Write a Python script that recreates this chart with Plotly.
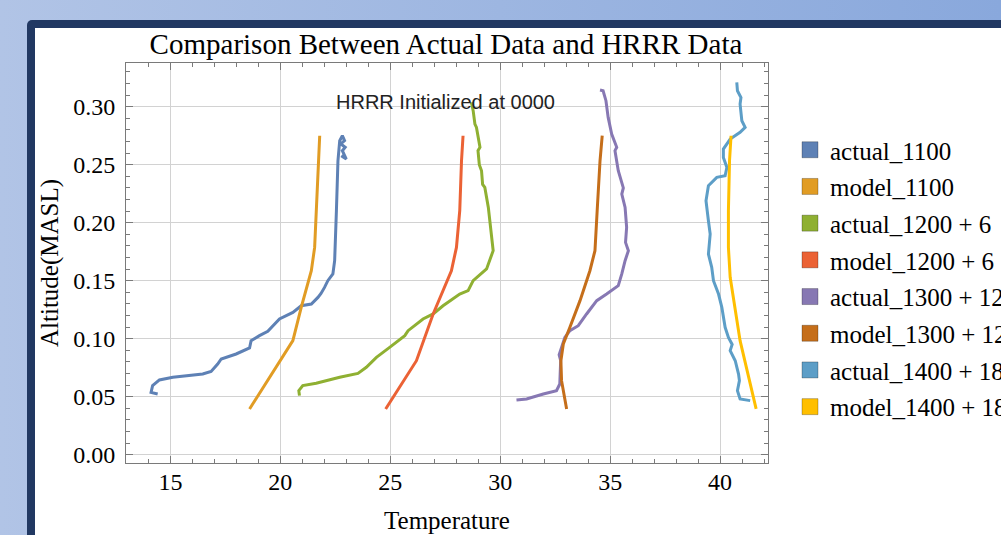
import base64
import plotly.graph_objects as go

# ---------------- data (temperature, altitude) ----------------
actual_1100_t = [14.42, 14.12, 14.19, 14.50, 15.11, 16.47, 16.85, 17.15, 17.31, 17.99, 18.60, 18.67,
                 19.05, 19.43, 19.96, 20.57, 20.95, 21.41, 21.71, 21.85, 22.01, 22.16, 22.39, 22.47, 22.55,
                 22.62, 22.70, 22.82, 22.92, 22.75, 22.95, 22.82, 23.00, 22.77]
actual_1100_z = [0.0523, 0.0537, 0.0595, 0.0644, 0.0667, 0.0695, 0.0718, 0.0781, 0.0825, 0.0868, 0.0920, 0.0983,
                 0.1026, 0.1063, 0.1170, 0.1227, 0.1284, 0.1299, 0.1356, 0.1390, 0.1442, 0.1500, 0.1558, 0.1672, 0.2103,
                 0.2534, 0.2707, 0.2750, 0.2707, 0.2680, 0.2650, 0.2621, 0.2549, 0.2578]

model_1100_t = [18.60, 19.96, 20.57, 20.95, 21.41, 21.56, 21.63, 21.71, 21.79]
model_1100_z = [0.0394, 0.0796, 0.0983, 0.1270, 0.1586, 0.1787, 0.2103, 0.2534, 0.2750]

actual_1200_t = [20.87, 20.84, 21.02, 21.63, 22.70, 23.53, 23.91, 24.37, 24.97, 25.66, 25.81, 26.49,
                 26.95, 27.40, 28.16, 28.54, 28.77, 29.38, 29.68, 29.60, 29.46, 29.30, 29.20, 29.15, 29.05,
                 28.99, 29.08, 28.92, 28.85, 28.77, 28.69]
actual_1200_z = [0.0509, 0.0552, 0.0595, 0.0615, 0.0667, 0.0701, 0.0753, 0.0839, 0.0925, 0.1026, 0.1069, 0.1170,
                 0.1213, 0.1284, 0.1385, 0.1414, 0.1500, 0.1601, 0.1759, 0.1902, 0.2132, 0.2304, 0.2330, 0.2448, 0.2500,
                 0.2621, 0.2650, 0.2822, 0.2850, 0.2966, 0.3037]

model_1200_t = [24.79, 26.19, 26.95, 27.78, 28.01, 28.16, 28.24, 28.31]
model_1200_z = [0.0394, 0.0810, 0.1213, 0.1586, 0.1787, 0.2103, 0.2534, 0.2750]

actual_1300_t = [30.74, 31.20, 31.96, 32.56, 32.71, 32.75, 32.68, 32.79, 32.94, 33.17, 33.55, 33.93, 34.39,
                 34.84, 35.37, 35.53, 35.68, 35.83, 35.70, 35.75, 35.68, 35.53, 35.60, 35.37, 35.22, 35.30,
                 35.07, 34.91, 34.81, 34.68, 34.54]
actual_1300_z = [0.0471, 0.0480, 0.0523, 0.0552, 0.0609, 0.0810, 0.0860, 0.0925, 0.1011, 0.1069, 0.1112, 0.1213, 0.1328,
                 0.1385, 0.1457, 0.1558, 0.1672, 0.1759, 0.1830, 0.1960, 0.2132, 0.2247, 0.2300, 0.2448, 0.2621, 0.2650,
                 0.2764, 0.2908, 0.3052, 0.3138, 0.3144]

model_1300_t = [33.02, 32.79, 32.76, 32.87, 33.17, 33.63, 34.08, 34.31, 34.41, 34.54, 34.64]
model_1300_z = [0.0394, 0.0638, 0.0810, 0.0954, 0.1098, 0.1328, 0.1586, 0.1759, 0.2103, 0.2534, 0.2750]

actual_1400_t = [41.37, 40.91, 40.79, 40.88, 40.84, 40.69, 40.46, 40.55, 40.38, 40.23, 40.08, 39.93, 39.70,
                 39.62, 39.47, 39.55, 39.47, 39.36, 39.47, 39.85, 40.23, 40.31, 40.15, 40.15, 40.46,
                 40.91, 41.14, 40.99, 40.91, 40.95, 40.79, 40.76]
actual_1400_z = [0.0466, 0.0480, 0.0552, 0.0638, 0.0695, 0.0810, 0.0897, 0.0950, 0.1011, 0.1098, 0.1270, 0.1385, 0.1500,
                 0.1615, 0.1730, 0.1902, 0.2017, 0.2190, 0.2319, 0.2391, 0.2405, 0.2477, 0.2563, 0.2635, 0.2721,
                 0.2779, 0.2822, 0.2879, 0.3023, 0.3080, 0.3138, 0.3209]

model_1400_t = [41.64, 40.91, 40.46, 40.38, 40.38, 40.43, 40.50]
model_1400_z = [0.0394, 0.0983, 0.1529, 0.1787, 0.2103, 0.2534, 0.2750]

series_names = ["actual_1100", "model_1100", "actual_1200 + 6", "model_1200 + 6",
                "actual_1300 + 12", "model_1300 + 12", "actual_1400 + 18", "model_1400 + 18"]
series_colors = ["#5E81B5", "#E19C24", "#8FB032", "#EB6235",
                 "#8778B3", "#C56E1A", "#5D9EC7", "#FFBF00"]
series_data = [(actual_1100_t, actual_1100_z), (model_1100_t, model_1100_z),
               (actual_1200_t, actual_1200_z), (model_1200_t, model_1200_z),
               (actual_1300_t, actual_1300_z), (model_1300_t, model_1300_z),
               (actual_1400_t, actual_1400_z), (model_1400_t, model_1400_z)]

title_text = "Comparison Between Actual Data and HRRR Data"
note_text = "HRRR Initialized at 0000"

# ---------------- layout geometry (page pixels) ----------------
W, H = 1001, 535
L, R, T, B = 126, 768, 63, 463
pw, ph = R - L, B - T


def px(xp):
    return (xp - L) / pw


def py(yp):
    return (B - yp) / ph


fig = go.Figure()
for (tx, zy), name, col in zip(series_data, series_names, series_colors):
    fig.add_trace(go.Scatter(x=tx, y=zy, mode="lines", name=name,
                             line=dict(color=col, width=3), showlegend=False))
# legend swatches (squares, Mathematica style)
for i, (name, col) in enumerate(zip(series_names, series_colors)):
    fig.add_trace(go.Scatter(x=[None], y=[None], mode="markers", name=name,
                             legendgroup=f"g{i}",
                             marker=dict(symbol="square", size=16, color=col,
                                         line=dict(width=1, color="rgba(0,0,0,0.25)"))))

svg = f"""<svg xmlns='http://www.w3.org/2000/svg' width='{W}' height='{H}' viewBox='0 0 {W} {H}'>
<defs><linearGradient id='g' x1='0' y1='0' x2='1' y2='0'>
<stop offset='0' stop-color='#b1c4e6'/><stop offset='1' stop-color='#89a8dc'/></linearGradient></defs>
<rect width='{W}' height='{H}' fill='url(#g)'/>
<rect x='27' y='20' width='1100' height='600' rx='5' fill='#213862'/>
<rect x='35' y='28' width='1100' height='600' fill='#ffffff'/>
</svg>"""
src = "data:image/svg+xml;base64," + base64.b64encode(svg.encode()).decode()

fig.add_layout_image(dict(source=src, xref="paper", yref="paper",
                          x=px(0), y=py(0), sizex=W / pw, sizey=H / ph,
                          xanchor="left", yanchor="top", sizing="stretch", layer="below"))

serif = "Liberation Serif"
axis_common = dict(showline=True, linecolor="#7a7a7a", linewidth=1, mirror="ticks",
                   ticks="inside", ticklen=7, tickcolor="#7a7a7a",
                   showgrid=True, gridcolor="#d2d2d2", gridwidth=1, zeroline=False,
                   tickfont=dict(family=serif, size=24, color="black"))

fig.update_xaxes(range=[12.98, 42.18], dtick=5, tick0=0, ticklabelstandoff=-3,
                 minor=dict(dtick=1, ticks="inside", ticklen=4, tickcolor="#7a7a7a", showgrid=False),
                 title=dict(text="Temperature", font=dict(family=serif, size=25, color="black"), standoff=17),
                 **axis_common)
fig.update_yaxes(range=[-0.0072, 0.3377], dtick=0.05, tick0=0, tickformat=".2f", ticklabelstandoff=5,
                 minor=dict(dtick=0.01, ticks="inside", ticklen=4, tickcolor="#7a7a7a", showgrid=False),
                 title=dict(text="Altitude(MASL)", font=dict(family=serif, size=25, color="black"), standoff=7),
                 **axis_common)

fig.add_annotation(x=px(445), y=py(101.7), xref="paper", yref="paper", text=note_text,
                   showarrow=False, font=dict(family="Liberation Sans", size=20, color="#222222"),
                   xanchor="center", yanchor="middle")

fig.update_layout(
    width=W, height=H,
    margin=dict(l=L, r=W - R, t=T, b=H - B, autoexpand=False),
    paper_bgcolor="#ffffff", plot_bgcolor="#ffffff",
    title=dict(text=title_text, x=px(446), xref="paper", xanchor="center",
               y=1 - 44 / H, yanchor="middle",
               font=dict(family=serif, size=29, color="black")),
    legend=dict(x=px(790), y=py(127), xanchor="left", yanchor="top",
                font=dict(family=serif, size=25, color="black"),
                tracegroupgap=1.2, bgcolor="rgba(0,0,0,0)", itemsizing="trace"),
    showlegend=True,
)

fig.write_html("out.html", config={"displayModeBar": False},
               post_script="document.body.style.margin='0';document.body.style.overflow='hidden';")
